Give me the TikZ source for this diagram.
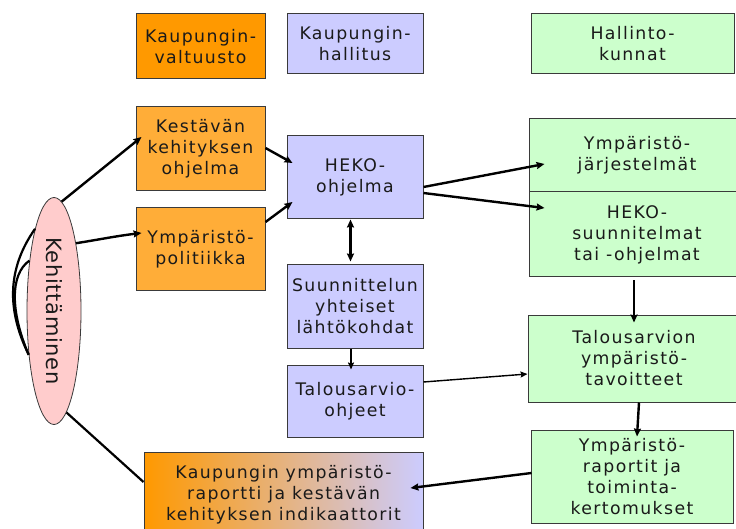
\documentclass[tikz,border=0pt]{standalone}
\usepackage{fontspec}
\usepackage{graphicx}
\usetikzlibrary{shapes.geometric,arrows.meta}
\newfontfamily\boxfont{DejaVu Sans}[LetterSpace=8]
\newfontfamily\ellfont{DejaVu Sans}[LetterSpace=3]
\definecolor{orgA}{HTML}{FF9900}
\definecolor{orgB}{HTML}{FFAD38}
\definecolor{lav}{HTML}{CCCCFF}
\definecolor{grn}{HTML}{CCFFCC}
\definecolor{pnk}{HTML}{FFCCCC}
\definecolor{bord}{HTML}{3A3A3A}
\definecolor{txt}{HTML}{1A1A1A}
\tikzset{
  box/.style={draw=bord, line width=1pt, rectangle, align=center, inner sep=0pt,
    text=txt, font=\boxfont\fontsize{17.3}{21}\selectfont},
  conn/.style={line width=2.4pt, -{Stealth[length=8pt,width=7pt,inset=1pt]}},
  thinconn/.style={line width=1.4pt, -{Stealth[length=7pt,width=6pt,inset=1pt]}},
  plain/.style={line width=2.2pt},
}
\begin{document}
\begin{tikzpicture}[x=1pt,y=-1pt]
\useasboundingbox (0,0) rectangle (736,529);
% top row
\node[box, fill=orgA, minimum width=129pt, minimum height=65pt] (valt) at (200.5,46.5) {Kaupungin-\\valtuusto};
\node[box, fill=lav, minimum width=136pt, minimum height=60pt] (hall) at (355,44) {Kaupungin-\\hallitus};
\node[box, fill=grn, minimum width=203pt, minimum height=60pt] (hk) at (632.5,44) {Hallinto-\\kunnat};
% orange column
\node[box, fill=orgB, minimum width=129pt, minimum height=84pt] (kest) at (200.5,149) {Kestävän\\kehityksen\\ohjelma};
\node[box, fill=orgB, minimum width=129pt, minimum height=83pt] (ymppol) at (200.5,249.5) {Ympäristö-\\politiikka};
% lavender column
\node[box, fill=lav, minimum width=136pt, minimum height=83pt] (heko) at (355,177.5) {HEKO-\\ohjelma};
\node[box, fill=lav, minimum width=136pt, minimum height=83pt] (suun) at (355,306.5) {Suunnittelun\\yhteiset\\lähtökohdat};
\node[box, fill=lav, minimum width=136pt, minimum height=72pt] (tal) at (355,401) {Talousarvio-\\ohjeet};
% green column
\node[box, fill=grn, minimum width=216pt, minimum height=73pt] (yj) at (637,155.5) {Ympäristö-\\järjestelmät};
\node[box, fill=grn, minimum width=216pt, minimum height=85pt] (hekos) at (637,234.5) {HEKO-\\suunnitelmat\\tai -ohjelmat};
\node[box, fill=grn, minimum width=212pt, minimum height=87pt] (tav) at (634,358.5) {Talousarvion\\ympäristö-\\tavoitteet};
\node[box, fill=grn, minimum width=202pt, minimum height=93pt] (yr) at (632,476.5) {Ympäristö-\\raportit ja\\toiminta-\\kertomukset};
% bottom gradient box
\node[box, left color=orgA, right color=lav, minimum width=279pt, minimum height=86pt] (kr) at (283.5,495) {Kaupungin ympäristö-\\raportti ja kestävän\\kehityksen indikaattorit};
% ellipse
\node[ellipse, draw=bord, line width=0.8pt, fill=pnk, minimum width=54pt, minimum height=227pt, inner sep=0pt,
  text=txt, font=\ellfont\fontsize{21}{24}\selectfont] (keh) at (54,311) {\rotatebox{-90}{Kehittäminen}};
% connectors from ellipse
\draw[conn] (keh.86) -- ([xshift=6pt,yshift=12pt]kest.west);
\draw[conn] (keh.72) .. controls +(25,-4) and +(-25,3) .. ([xshift=6pt,yshift=16.5pt]ymppol.west);
\draw[plain] (keh.277) -- ([yshift=13pt]kr.west);
\draw[plain] (keh.103) .. controls +(-28,40) and +(-22,-45) .. (keh.240);
\draw[plain] (keh.116) .. controls +(-20,14) and +(-18,-42) .. (keh.240);
% main flow
\draw[conn] ([yshift=1pt]kest.east) -- ([xshift=6pt,yshift=14.5pt]heko.west);
\draw[conn] ([yshift=27.5pt]ymppol.east) -- ([xshift=6pt,yshift=-24.5pt]heko.west);
\draw[conn] ([yshift=-9.5pt]heko.east) -- ([xshift=16pt,yshift=-8.5pt]yj.west);
\draw[conn] ([yshift=-15.5pt]heko.east) -- ([xshift=16pt,yshift=26.5pt]hekos.west);
\draw[line width=2.4pt, {Stealth[length=8pt,width=7pt,inset=1pt]}-{Stealth[length=8pt,width=7pt,inset=1pt]}] ([xshift=-4.5pt]heko.south) -- ([xshift=-4.5pt,yshift=3pt]suun.north);
\draw[thinconn] ([xshift=-4pt]suun.south) -- ([xshift=-4pt,yshift=-5pt]tal.north);
\draw[thinconn] ([yshift=19pt]tal.east) -- ([yshift=-15.5pt]tav.west);
\draw[conn] ([xshift=-3pt,yshift=-3pt]hekos.south) -- ([yshift=-8pt]tav.north);
\draw[conn] ([xshift=5pt]tav.south) -- ([xshift=5pt,yshift=-7pt]yr.north);
\draw[conn] ([xshift=1pt,yshift=3.5pt]yr.west) -- ([xshift=-13pt,yshift=7pt]kr.east);
\end{tikzpicture}
\end{document}
